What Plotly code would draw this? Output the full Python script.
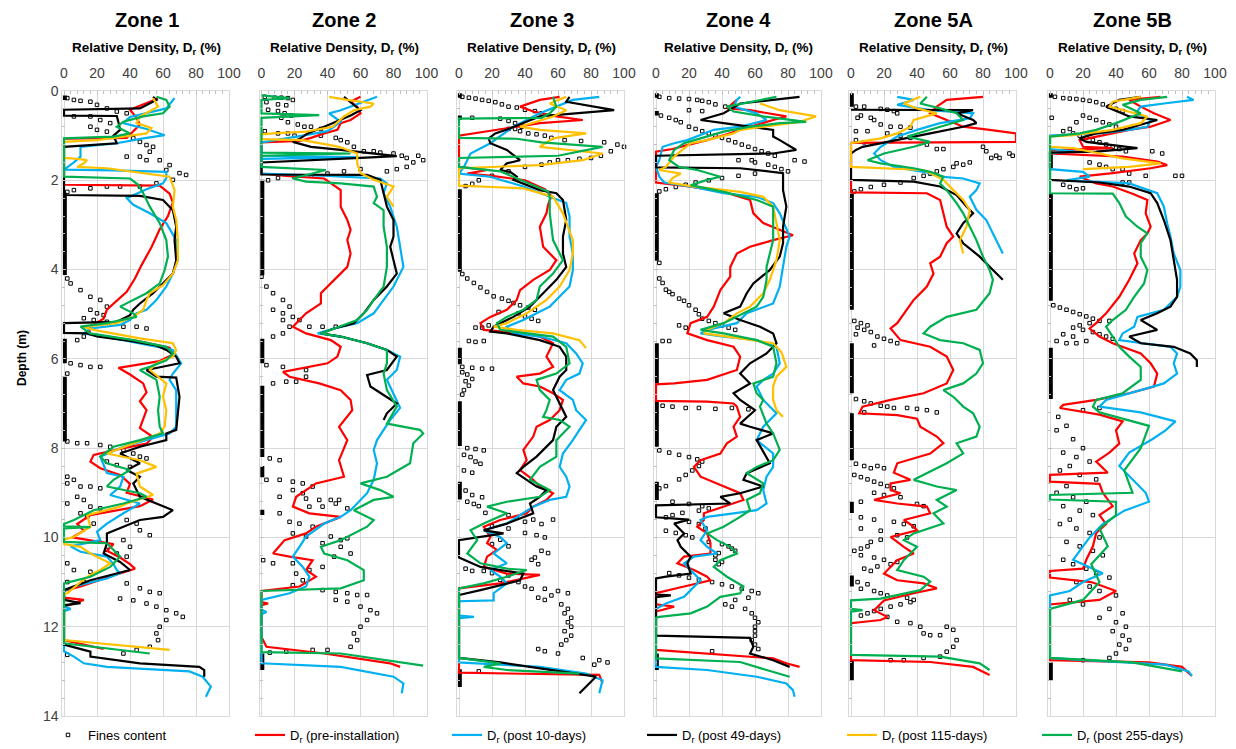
import plotly.graph_objects as go

ZONES = ["Zone 1", "Zone 2", "Zone 3", "Zone 4", "Zone 5A", "Zone 5B"]
SERIES = ["D<sub>r</sub> (pre-installation)", "D<sub>r</sub> (post 10-days)", "D<sub>r</sub> (post 49-days)",
          "D<sub>r</sub> (post 115-days)", "D<sub>r</sub> (post 255-days)"]
X_TICKS = [0, 20, 40, 60, 80, 100]
Y_TICKS = [0, 2, 4, 6, 8, 10, 12, 14]

# ---------------- Zone 1 (depth m, Dr %) ----------------
Z1_RED = [(0.17,57),(0.3,48),(0.42,40),(0.6,44),(0.75,46),(0.9,42),(1.05,38),(1.07,0),(2.1,0),(2.12,58),(2.3,64),(2.5,66),(2.8,63),(3.1,58),(3.5,53),(3.9,47),(4.2,43),(4.5,38),(4.7,32),(4.9,26),(5.1,24),(5.3,15),(5.45,16),(5.6,45),(5.75,64),(5.9,66),(6.05,58),(6.2,33),(6.35,40),(6.55,48),(6.75,50),(6.95,46),(7.15,50),(7.35,48),(7.55,46),(7.75,54),(7.9,50),(8.0,36),(8.15,18),(8.3,16),(8.45,22),(8.6,34),(8.8,40),(9.0,38),(9.15,54),(9.3,46),(9.5,16),(9.7,8),(9.85,12),(10.0,5),(10.15,30),(10.3,26),(10.45,34),(10.6,40),(10.7,43),(10.85,30),(11.1,10),(11.2,0),(11.35,0),(11.4,12),(11.5,3),(11.55,0),(12.3,0),(12.5,24)]
Z1_BLUE = [(0.16,67),(0.39,62),(0.58,40),(0.72,36),(0.85,50),(0.99,61),(1.06,48),(1.17,32),(1.25,10),(1.47,10),(1.6,6),(1.7,2),(1.76,0),(1.78,30),(1.81,62),(1.95,62),(2.07,60),(2.2,50),(2.4,38),(2.55,42),(2.74,52),(2.96,62),(3.34,68),(3.79,69),(4.09,66),(4.38,62),(4.68,56),(4.9,50),(4.98,44),(5.13,40),(5.24,34),(5.32,16),(5.43,12),(5.58,36),(5.8,66),(6.1,71),(6.33,66),(6.47,64),(6.7,68),(7.15,68),(7.52,68),(7.67,64),(7.82,50),(7.97,36),(8.19,22),(8.4,24),(8.56,26),(8.64,36),(8.86,34),(9.05,28),(9.16,38),(9.24,46),(9.46,36),(9.69,26),(9.87,20),(10.06,22),(10.2,4),(10.32,10),(10.43,26),(10.6,30),(10.73,32),(10.8,34),(10.92,26),(11.1,6),(11.2,0),(11.55,0),(11.6,4),(11.65,0),(12.55,0),(12.67,6),(12.82,12),(12.9,26),(13.0,76),(13.12,84),(13.34,89),(13.57,86)]
Z1_BLACK = [(0.13,54),(0.2,56),(0.39,46),(0.42,0),(0.55,0),(0.56,32),(0.7,33),(0.87,34),(1.0,30),(1.17,32),(1.25,0),(2.33,0),(2.35,46),(2.44,60),(2.67,66),(3.04,68),(3.34,67),(3.79,68),(4.09,66),(4.31,60),(4.53,54),(4.76,46),(4.9,42),(5.02,40),(5.17,32),(5.2,0),(5.42,0),(5.43,14),(5.5,20),(5.6,40),(5.7,56),(5.8,62),(5.95,68),(6.1,70),(6.25,50),(6.4,56),(6.42,68),(6.85,70),(7.22,69),(7.59,68),(7.67,62),(7.82,62),(7.97,46),(8.12,34),(8.19,38),(8.34,46),(8.49,38),(8.64,46),(8.79,42),(9.09,46),(9.39,66),(9.54,60),(9.61,46),(9.76,36),(9.91,26),(10.13,26),(10.36,24),(10.55,34),(10.73,40),(10.96,16),(11.18,0),(11.4,0),(11.47,10),(11.52,0),(12.4,0),(12.56,16),(12.67,16),(12.82,46),(12.9,82),(12.97,85),(13.12,85)]
Z1_ORANGE = [(0.16,54),(0.35,57),(0.57,46),(0.72,44),(0.83,53),(0.95,50),(1.02,36),(1.1,20),(1.14,0),(1.5,0),(1.52,8),(1.55,14),(1.62,12),(1.7,8),(1.73,26),(1.92,64),(2.22,67),(2.59,66),(2.89,68),(3.34,69),(3.79,69),(4.09,66),(4.35,60),(4.53,52),(4.68,50),(4.9,48),(5.06,42),(5.2,32),(5.28,12),(5.35,18),(5.54,46),(5.65,66),(5.8,68),(5.95,66),(6.1,56),(6.25,52),(6.55,62),(6.85,60),(7.15,62),(7.52,61),(7.67,58),(7.9,42),(8.12,26),(8.27,46),(8.42,56),(8.57,44),(8.86,46),(9.05,54),(9.24,38),(9.31,34),(9.5,14),(9.76,16),(9.99,6),(10.05,0),(10.15,0),(10.21,10),(10.36,16),(10.58,28),(10.73,22),(10.84,16),(11.0,10),(11.25,2),(11.28,0),(12.3,0),(12.52,64)]
Z1_GREEN = [(0.13,56),(0.2,62),(0.35,64),(0.5,60),(0.57,48),(0.69,36),(0.8,32),(0.95,40),(1.02,30),(1.06,0),(1.92,0),(1.96,40),(2.1,45),(2.29,48),(2.59,52),(2.96,58),(3.34,62),(3.71,63),(4.01,61),(4.31,58),(4.53,50),(4.68,42),(4.83,34),(4.98,42),(5.06,44),(5.2,26),(5.28,10),(5.43,16),(5.58,42),(5.73,62),(5.88,66),(6.03,62),(6.18,52),(6.25,46),(6.47,56),(6.85,58),(7.15,57),(7.52,58),(7.67,60),(7.82,46),(7.97,30),(8.19,22),(8.34,26),(8.49,40),(8.71,30),(8.86,26),(9.01,46),(9.09,50),(9.24,36),(9.39,18),(9.61,6),(9.7,0),(9.75,0),(9.77,16),(9.8,0),(10.1,0),(10.13,26),(10.43,34),(10.66,28),(10.88,16),(11.03,0),(12.37,0),(12.6,52)]
Z1_FINES = [(0.16,2),(0.2,6),(0.22,10),(0.24,16),(0.31,20),(0.39,26),(0.46,32),(0.5,38),(0.57,6),(0.57,16),(0.65,22),(0.72,28),(0.8,16),(0.87,20),(0.91,26),(1.02,36),(1.06,42),(1.14,46),(1.21,50),(1.25,54),(1.36,52),(1.47,46),(1.47,38),(1.55,50),(1.55,58),(1.66,64),(1.77,62),(1.84,70),(1.88,74),(1.99,66),(2.07,56),(2.14,46),(2.14,34),(2.14,26),(2.18,16),(2.22,6),(2.26,2),(4.2,2),(4.31,4),(4.46,10),(4.61,16),(4.68,22),(4.83,26),(4.9,16),(4.98,20),(5.02,24),(5.09,12),(5.13,18),(5.17,26),(5.28,36),(5.28,44),(5.32,50),(5.5,12),(5.58,8),(6.1,4),(6.14,10),(6.18,16),(6.18,22),(6.33,2),(7.85,2),(7.89,8),(7.89,14),(7.93,22),(7.97,28),(8.04,36),(8.12,42),(8.19,46),(8.23,50),(8.3,26),(8.38,32),(8.42,40),(8.64,2),(8.71,6),(8.79,2),(8.86,10),(8.86,16),(8.9,22),(9.09,8),(9.16,12),(9.24,2),(9.31,16),(9.35,22),(9.46,10),(9.54,14),(9.69,18),(9.61,38),(9.69,44),(9.84,46),(9.95,52),(10.06,36),(10.21,40),(10.28,26),(10.36,32),(10.43,38),(10.58,2),(10.73,6),(10.77,16),(11.0,2),(11.0,12),(11.03,38),(11.14,46),(11.22,52),(11.25,58),(11.37,34),(11.41,42),(11.48,50),(11.55,56),(11.63,62),(11.7,68),(11.78,72),(11.85,62),(12.0,58),(12.15,56),(12.3,57),(12.45,52),(12.52,44),(12.6,36),(12.63,2)]
Z1_FINES_ZERO = [(0.1,0.2),(2.28,4.12),(5.55,6.1),(6.4,7.85)]

# ---------------- Zone 2 ----------------
Z2_RED = [(0.13,60),(0.24,54),(0.35,58),(0.5,60),(0.65,54),(0.72,48),(0.87,46),(0.95,38),(1.05,30),(1.12,23),(1.15,0),(1.85,0),(1.9,15),(1.96,38),(2.22,48),(2.59,48),(2.89,52),(3.11,54),(3.34,52),(3.64,54),(3.94,52),(4.23,44),(4.53,36),(4.76,36),(4.98,27),(5.28,19),(5.43,27),(5.58,42),(5.73,48),(5.95,46),(6.1,40),(6.29,13),(6.4,17),(6.55,35),(6.7,48),(6.92,54),(7.15,55),(7.52,47),(7.82,52),(8.27,47),(8.64,50),(8.79,33),(9.09,21),(9.31,19),(9.46,29),(9.54,48),(9.76,33),(9.91,27),(10.06,14),(10.36,7),(10.43,17),(10.51,31),(10.73,27),(10.88,33),(11.1,23),(11.2,0),(11.45,0),(11.48,4),(11.52,0),(12.23,0),(12.45,3),(12.6,38),(12.82,78),(12.9,84)]
Z2_BLUE = [(0.13,70),(0.24,62),(0.43,48),(0.5,41),(0.69,48),(0.8,44),(0.9,40),(1.0,25),(1.1,10),(1.15,0),(1.45,0),(1.48,58),(1.52,0),(1.85,0),(1.9,40),(1.96,72),(2.07,76),(2.29,74),(2.59,78),(3.04,82),(3.49,84),(3.94,86),(4.38,80),(4.68,74),(4.98,68),(5.2,58),(5.32,44),(5.43,34),(5.5,48),(5.65,64),(5.8,76),(5.95,84),(6.25,82),(6.47,76),(6.77,80),(7.1,84),(7.37,78),(7.82,70),(8.04,68),(8.34,70),(8.71,68),(9.01,64),(9.39,54),(9.54,48),(9.69,38),(9.98,27),(10.21,23),(10.43,19),(10.66,25),(10.88,29),(11.1,27),(11.25,17),(11.4,0),(11.62,0),(11.67,3),(11.72,0),(12.82,0),(12.9,48),(13.12,80),(13.27,86),(13.49,85)]
Z2_BLACK = [(0.13,50),(0.3,56),(0.43,60),(0.55,54),(0.65,48),(0.8,38),(0.95,28),(1.05,24),(1.14,19),(1.25,30),(1.32,48),(1.4,68),(1.46,82),(1.5,60),(1.6,0),(1.87,0),(1.88,64),(1.99,72),(2.29,74),(2.59,76),(2.89,80),(3.26,80),(3.49,78),(3.79,80),(4.09,82),(4.38,76),(4.68,68),(4.98,62),(5.2,56),(5.32,44),(5.43,36),(5.5,48),(5.65,64),(5.8,76),(5.95,82),(6.25,76),(6.36,64),(6.62,66),(6.77,72),(7.0,82),(7.22,76),(7.37,74)]
Z2_ORANGE = [(0.13,41),(0.2,52),(0.28,68),(0.35,66),(0.43,56),(0.57,50),(0.8,43),(0.91,27),(0.95,7),(0.97,0),(1.08,0),(1.1,25),(1.2,40),(1.25,47),(1.4,58),(1.62,58),(1.84,60),(1.99,68),(2.14,80),(2.37,76),(2.59,80)]
Z2_GREEN = [(0.1,0),(0.16,17),(0.2,0),(0.5,0),(0.54,35),(0.6,0),(1.38,0),(1.4,54),(1.45,0),(1.7,0),(1.77,39),(1.85,30),(1.96,19),(2.03,27),(2.07,48),(2.14,68),(2.37,70),(2.51,68),(2.67,74),(3.04,74),(3.49,76),(3.94,76),(4.38,74),(4.68,68),(4.9,64),(5.13,58),(5.32,44),(5.43,36),(5.5,48),(5.65,64),(5.8,76),(6.1,76),(6.33,74),(6.7,76),(7.07,82),(7.45,76),(7.59,96),(7.67,98),(7.89,92),(8.34,90),(8.64,76),(8.79,60),(8.94,72),(9.09,80),(9.16,68),(9.39,56),(9.61,68),(9.76,64),(10.06,48),(10.21,36),(10.36,38),(10.51,52),(10.73,62),(10.96,62),(11.14,48),(11.2,0),(12.57,0),(12.6,48),(12.87,98)]
Z2_FINES = [(0.13,2),(0.15,8),(0.15,12),(0.16,16),(0.2,19),(0.25,3),(0.3,10),(0.32,15),(0.42,4),(0.45,10),(0.5,14),(0.55,18),(0.6,12),(0.7,16),(0.75,22),(0.8,26),(0.8,30),(0.85,36),(0.9,2),(0.95,10),(0.95,16),(1.0,20),(1.0,36),(1.05,45),(1.1,48),(1.15,52),(1.25,56),(1.35,62),(1.35,68),(1.38,72),(1.4,80),(1.45,85),(1.5,88),(1.45,95),(1.55,98),(1.6,92),(1.7,88),(1.75,82),(1.8,76),(1.75,60),(1.8,50),(1.85,40),(1.9,30),(1.92,20),(1.95,10),(2.0,4),(4.16,0),(4.38,3),(4.53,7),(4.68,13),(4.83,17),(4.9,7),(4.98,13),(5.06,19),(5.13,13),(5.13,23),(5.28,17),(5.28,29),(5.28,37),(5.28,45),(5.5,7),(5.43,13),(6.14,3),(6.18,13),(6.25,27),(6.4,27),(6.55,7),(6.51,15),(6.51,21),(8.23,5),(8.27,11),(8.71,3),(8.71,11),(8.75,19),(8.79,25),(8.86,31),(8.94,19),(9.01,25),(9.09,11),(9.13,27),(9.16,35),(9.16,42),(9.16,47),(9.31,29),(9.31,37),(9.24,45),(9.35,52),(9.46,11),(9.65,17),(9.69,23),(9.76,31),(9.91,19),(9.98,27),(9.98,42),(10.06,48),(10.13,37),(10.21,48),(10.02,52),(10.36,54),(10.43,44),(10.51,1),(10.58,7),(10.58,19),(10.66,37),(10.73,29),(10.81,21),(10.96,25),(11.07,19),(11.18,37),(11.22,45),(11.25,52),(11.29,58),(11.29,64),(11.4,45),(11.44,52),(11.55,60),(11.63,66),(11.7,70),(11.85,64),(12.0,60),(12.15,56),(12.3,58),(12.45,54),(12.52,40),(12.52,31),(12.56,15),(12.58,5)]
Z2_FINES_ZERO = [(1.99,4.12),(5.55,6.1),(6.6,8.2),(8.4,8.65),(9.38,9.5),(12.6,12.97)]

# ---------------- Zone 3 ----------------
Z3_RED = [(0.13,61),(0.2,49),(0.35,37),(0.46,45),(0.57,59),(0.65,75),(0.72,49),(0.8,35),(0.9,15),(1.0,0),(1.7,0),(1.77,17),(1.85,5),(1.9,20),(2.0,40),(2.2,52),(2.35,56),(2.55,54),(2.74,53),(3.04,49),(3.49,51),(3.79,59),(4.01,55),(4.23,45),(4.46,37),(4.68,35),(4.9,29),(5.06,19),(5.2,13),(5.35,15),(5.43,39),(5.5,49),(5.65,57),(5.95,53),(6.18,57),(6.33,49),(6.4,35),(6.55,39),(6.62,49),(6.77,57),(6.92,63),(7.15,61),(7.37,55),(7.52,47),(7.74,45),(8.04,39),(8.27,41),(8.49,37),(8.71,45),(8.86,49),(9.01,57),(9.16,53),(9.31,45),(9.46,41),(9.61,25),(9.76,15),(9.99,19),(10.13,17),(10.28,23),(10.43,17),(10.66,15),(10.81,29),(10.84,49),(10.92,39),(11.03,25),(11.14,0),(13.03,0),(13.08,85),(13.27,87)]
Z3_BLUE = [(0.13,85),(0.2,69),(0.35,59),(0.5,49),(0.8,33),(1.02,25),(1.17,19),(1.4,7),(1.55,5),(1.7,3),(1.85,0),(1.92,19),(2.14,39),(2.37,55),(2.51,65),(2.81,67),(3.26,67),(3.64,69),(4.01,69),(4.38,67),(4.61,61),(4.83,55),(4.98,47),(5.13,39),(5.28,29),(5.43,33),(5.5,49),(5.65,65),(5.88,71),(6.1,75),(6.33,73),(6.47,65),(6.7,61),(6.92,69),(7.15,71),(7.37,77),(7.59,73),(7.82,69),(8.12,63),(8.42,61),(8.64,65),(8.86,67),(9.09,65),(9.16,55),(9.31,45),(9.54,35),(9.69,29),(9.84,15),(9.99,25),(10.13,29),(10.36,21),(10.58,29),(10.73,19),(10.88,25),(11.03,29),(11.25,21),(11.41,21),(11.43,0),(11.75,0),(11.78,9),(11.81,0),(12.8,0),(12.9,49),(13.05,77),(13.2,87),(13.49,85)]
Z3_BLACK = [(0.13,67),(0.24,65),(0.43,94),(0.5,69),(0.57,49),(0.7,40),(0.85,30),(0.95,22),(1.06,18),(1.17,19),(1.32,29),(1.55,37),(1.62,29),(1.77,25),(1.81,31),(1.92,35),(1.99,33),(2.22,49),(2.29,59),(2.44,63),(2.89,65),(3.26,63),(3.64,63),(3.94,65),(4.23,59),(4.53,51),(4.83,43),(5.06,33),(5.28,21),(5.39,19),(5.43,29),(5.58,49),(5.73,61),(5.95,65),(6.25,65),(6.4,61),(6.7,57),(7.0,61),(7.3,65),(7.52,59),(7.82,57),(8.19,47),(8.42,39),(8.56,35),(8.71,41),(8.86,47),(8.94,53),(9.09,49),(9.24,43),(9.46,45),(9.69,29),(9.84,15),(9.91,27),(10.0,10),(10.06,0),(10.45,0),(10.58,8),(10.66,13),(10.81,39),(10.96,37),(11.18,13),(11.29,0),(12.7,0),(12.8,25),(13.12,83),(13.49,73)]
Z3_ORANGE = [(0.13,65),(0.28,55),(0.43,65),(0.57,57),(0.8,37),(0.87,49),(0.95,77),(1.06,57),(1.25,49),(1.32,65),(1.4,87),(1.55,75),(1.66,49),(1.73,0),(2.12,0),(2.18,39),(2.37,57),(2.74,63),(3.34,69),(3.64,69),(4.01,67),(4.38,61),(4.68,53),(4.98,41),(5.2,29),(5.28,21),(5.35,35),(5.43,57),(5.58,73),(5.76,77)]
Z3_GREEN = [(0.13,57),(0.35,59),(0.5,55),(0.6,50),(0.62,0),(1.05,0),(1.07,35),(1.15,50),(1.25,87),(1.45,60),(1.5,0),(1.7,0),(1.8,25),(1.95,35),(2.1,45),(2.25,54),(2.37,55),(2.74,55),(3.34,57),(3.79,63),(4.09,57),(4.38,49),(4.68,47),(4.9,39),(5.06,29),(5.2,23),(5.35,25),(5.43,41),(5.5,57),(5.73,65),(6.1,67),(6.33,59),(6.47,47),(6.7,49),(6.92,55),(7.15,53),(7.3,51),(7.37,61),(7.52,67),(7.82,59),(8.19,59),(8.42,49),(8.71,43),(8.94,55),(9.09,49),(9.2,29),(9.31,17),(9.46,29),(9.69,15),(9.84,7),(10.06,11),(10.36,5),(10.58,13),(10.7,29),(10.73,41),(10.88,29),(11.03,15),(11.14,0),(12.7,0),(12.82,25),(12.9,15),(12.97,29),(13.05,73)]
Z3_FINES = [(0.13,2),(0.15,6),(0.17,10),(0.2,14),(0.22,18),(0.25,22),(0.3,26),(0.35,30),(0.37,35),(0.42,40),(0.45,46),(0.5,50),(0.6,8),(0.62,25),(0.67,30),(0.72,34),(0.8,38),(0.85,30),(0.85,34),(0.9,37),(0.95,42),(0.97,47),(1.0,52),(1.05,56),(1.1,64),(1.12,74),(1.15,88),(1.2,96),(1.25,100),(1.35,92),(1.45,86),(1.5,80),(1.52,73),(1.55,66),(1.55,60),(1.6,55),(1.65,50),(1.7,40),(1.8,30),(1.9,20),(2.0,12),(2.08,8),(2.13,4),(4.1,2),(4.2,5),(4.3,9),(4.4,13),(4.5,17),(4.6,21),(4.65,26),(4.7,30),(4.75,33),(4.8,37),(4.85,42),(4.9,46),(4.95,24),(4.98,36),(5.05,40),(5.1,44),(5.15,48),(5.3,10),(5.3,14),(5.25,18),(5.6,6),(5.62,10),(5.6,15),(6.18,2),(6.2,8),(6.22,14),(6.22,20),(6.3,2),(6.35,5),(6.45,8),(6.5,4),(6.6,6),(6.7,3),(6.8,2),(8.0,5),(8.02,10),(8.05,15),(8.15,3),(8.2,7),(8.3,10),(8.35,13),(8.5,3),(8.55,8),(8.95,4),(9.05,8),(9.1,14),(9.2,5),(9.25,9),(9.3,12),(9.45,16),(9.5,30),(9.55,35),(9.6,45),(9.6,57),(9.65,40),(9.7,50),(9.75,20),(9.8,30),(9.9,40),(9.95,47),(10.0,52),(10.05,25),(10.15,20),(10.2,30),(10.3,50),(10.35,54),(10.45,46),(10.5,44),(10.6,48),(10.7,4),(10.75,8),(10.75,15),(10.8,20),(10.85,30),(10.95,25),(11.0,36),(11.1,40),(11.15,44),(11.15,52),(11.2,60),(11.25,66),(11.3,56),(11.35,48),(11.4,52),(11.5,62),(11.6,66),(11.7,64),(11.8,68),(11.9,66),(12.0,68),(12.1,64),(12.2,68),(12.3,65),(12.4,62),(12.5,48),(12.55,52),(12.6,60),(12.7,75),(12.75,85),(12.8,90),(12.85,82),(13.0,12)]
Z3_FINES_ZERO = [(0.05,0.15),(0.55,0.65),(2.2,4.05),(5.75,6.12),(6.95,7.95),(8.75,9.15),(12.95,13.35)]

# ---------------- Zone 4 ----------------
Z4_RED = [(0.2,49),(0.39,43),(0.43,57),(0.57,79),(0.65,71),(0.8,57),(0.99,41),(1.1,31),(1.2,20),(1.3,10),(1.36,0),(2.05,0),(2.14,21),(2.26,41),(2.44,57),(2.74,59),(2.96,65),(3.11,75),(3.23,83),(3.34,71),(3.49,57),(3.64,49),(3.94,45),(4.16,45),(4.46,39),(4.83,35),(5.06,31),(5.2,21),(5.43,19),(5.58,31),(5.73,47),(5.95,51),(6.25,49),(6.47,31),(6.55,11),(6.57,0),(6.94,0),(6.96,31),(7.0,47),(7.07,49),(7.3,51),(7.52,47),(7.74,49),(7.89,43),(8.12,39),(8.27,27),(8.42,23),(8.64,27),(8.86,41),(9.01,51),(9.16,53),(9.31,41),(9.46,29),(9.61,29),(9.76,25),(9.91,31),(10.13,33),(10.36,33),(10.43,17),(10.58,13),(10.73,23),(10.88,31),(10.96,33),(11.1,17),(11.25,0),(11.5,0),(11.55,11),(11.63,3),(11.66,0),(12.52,0),(12.6,31),(12.71,71),(12.82,79),(12.9,87)]
Z4_BLUE = [(0.13,51),(0.2,49),(0.35,47),(0.5,61),(0.65,67),(0.8,51),(0.87,35),(1.02,25),(1.1,19),(1.17,11),(1.25,4),(1.55,2),(1.7,0),(1.92,2),(2.05,5),(2.14,21),(2.29,41),(2.37,61),(2.51,71),(2.74,75),(3.11,79),(3.26,81),(3.49,79),(3.94,77),(4.38,75),(4.76,71),(4.98,55),(5.2,49),(5.35,31),(5.43,27),(5.5,41),(5.58,61),(5.73,73),(6.1,75),(6.33,71),(6.47,65),(6.62,61),(6.92,65),(7.15,71),(7.22,73),(7.52,65),(7.82,61),(8.12,71),(8.42,71),(8.64,67),(8.94,65),(9.24,67),(9.39,61),(9.46,47),(9.54,31),(9.61,27),(9.84,31),(10.06,27),(10.21,31),(10.36,37),(10.43,23),(10.58,17),(10.73,21),(10.96,27),(11.18,21),(11.33,17),(11.48,6),(11.55,2),(11.6,0),(12.9,0),(12.97,31),(13.12,61),(13.27,79),(13.42,83),(13.57,84)]
Z4_BLACK = [(0.13,87),(0.2,71),(0.28,51),(0.5,41),(0.65,27),(0.72,41),(0.87,71),(1.02,71),(1.1,75),(1.32,85),(1.4,71),(1.45,0),(1.71,0),(1.73,51),(1.84,77),(2.22,77),(2.59,79),(3.04,77),(3.41,77),(3.71,75),(4.01,69),(4.31,59),(4.53,55),(4.83,51),(4.98,41),(5.13,51),(5.28,63),(5.43,71),(5.65,73),(5.88,67),(6.1,57),(6.33,51),(6.55,57),(6.77,47),(6.92,51),(7.15,60),(7.45,51),(7.52,57),(7.67,71),(7.82,61),(8.19,67),(8.34,69),(8.56,55),(8.71,53),(8.86,65),(9.01,51),(9.09,39),(9.24,45),(9.28,0),(9.55,0),(9.6,20),(9.69,11),(9.91,17),(10.06,13),(10.21,15),(10.43,21),(10.58,19),(10.81,21),(10.88,6),(10.92,0),(11.28,0),(11.3,9),(11.34,0),(12.2,0),(12.25,57),(12.45,59),(12.6,57),(12.75,71),(12.9,81)]
Z4_ORANGE = [(0.28,63),(0.43,75),(0.57,97),(0.69,87),(0.87,51),(0.95,47),(1.1,31),(1.17,21),(1.47,11),(1.7,6),(1.77,2),(1.85,15),(1.95,10),(2.05,8),(2.13,21),(2.26,51),(2.37,65),(2.59,71),(2.96,73),(3.34,75),(3.79,73),(4.23,69),(4.53,65),(4.83,57),(4.98,49),(5.2,41),(5.35,31),(5.43,29),(5.54,51),(5.65,71),(5.85,76),(6.18,79),(6.4,73),(6.62,71),(6.92,71),(7.15,73),(7.3,77)]
Z4_GREEN = [(0.13,73),(0.24,57),(0.35,43),(0.46,47),(0.57,65),(0.69,91),(0.72,75),(0.8,57),(0.91,41),(1.06,27),(1.17,17),(1.32,11),(1.55,8),(1.7,14),(1.77,25),(1.92,39),(1.99,31),(2.11,21),(2.26,41),(2.44,61),(2.59,71),(2.96,71),(3.34,71),(3.64,69),(3.94,67),(4.23,67),(4.61,65),(4.83,61),(5.06,49),(5.2,41),(5.35,27),(5.43,41),(5.58,61),(5.73,71),(6.1,73),(6.4,71),(6.55,59),(6.77,61),(6.92,65),(7.07,63),(7.45,67),(7.67,71),(8.04,75),(8.27,71),(8.42,61),(8.56,55),(8.79,65),(9.01,63),(9.16,55),(9.39,57),(9.54,51),(9.76,41),(9.91,31),(10.06,37),(10.21,45),(10.36,49),(10.51,39),(10.66,35),(10.88,43),(11.1,53),(11.25,51),(11.33,39),(11.55,31),(11.7,21),(11.78,2),(11.8,0),(12.71,0),(12.79,51),(12.97,67),(13.12,81)]
Z4_FINES = [(0.13,2),(0.16,8),(0.17,14),(0.18,20),(0.2,25),(0.22,28),(0.25,32),(0.3,36),(0.35,42),(0.43,20),(0.45,28),(0.55,3),(0.6,8),(0.65,12),(0.7,15),(0.8,20),(0.85,24),(0.9,28),(0.95,32),(1.0,36),(1.05,40),(1.1,44),(1.15,48),(1.2,52),(1.25,56),(1.3,60),(1.35,64),(1.4,68),(1.45,72),(1.55,50),(1.55,58),(1.6,60),(1.65,68),(1.7,72),(1.75,76),(1.8,80),(1.55,84),(1.58,90),(1.85,60),(1.9,50),(1.95,40),(2.0,32),(2.05,24),(2.1,18),(2.15,12),(2.2,6),(2.25,2),(3.85,2),(4.2,2),(4.3,4),(4.45,6),(4.5,8),(4.55,10),(4.65,14),(4.7,17),(4.8,20),(4.9,24),(5.0,26),(5.1,28),(5.15,32),(5.2,36),(5.25,40),(5.3,44),(5.35,48),(5.25,14),(5.3,18),(5.6,4),(5.6,8),(7.05,4),(7.07,10),(7.1,18),(7.1,26),(7.12,36),(7.1,46),(7.13,56),(8.05,2),(8.1,8),(8.15,14),(8.2,20),(8.25,25),(8.3,28),(8.4,26),(8.5,22),(8.6,18),(8.7,14),(8.85,6),(8.9,2),(9.2,10),(9.25,20),(9.3,28),(9.35,32),(9.4,26),(9.45,16),(9.5,10),(9.55,6),(9.65,20),(9.7,26),(9.8,30),(9.85,6),(9.9,12),(9.95,18),(10.0,22),(10.1,32),(10.15,40),(10.2,44),(10.25,46),(10.3,48),(10.35,38),(10.4,36),(10.5,36),(10.55,40),(10.6,38),(10.8,8),(10.85,14),(10.9,20),(10.95,26),(11.0,34),(11.05,40),(11.1,46),(11.15,52),(11.2,58),(11.25,62),(11.35,56),(11.4,48),(11.5,42),(11.55,46),(11.6,54),(11.7,58),(11.8,60),(11.9,62),(12.0,60),(12.1,60),(12.2,60),(12.3,58),(12.4,60),(12.5,62),(12.55,34)]
Z4_FINES_ZERO = [(0.05,0.15),(0.45,0.55),(2.29,3.8),(5.65,6.55),(6.92,7.97),(8.75,9.16),(12.6,12.97)]

# ---------------- Zone 5A ----------------
Z5A_RED = [(0.13,80),(0.2,58),(0.35,52),(0.5,48),(0.65,58),(0.8,68),(0.87,84),(0.95,100),(1.14,100),(1.16,0),(2.27,0),(2.29,46),(2.44,54),(2.74,56),(3.04,58),(3.26,62),(3.41,58),(3.71,54),(3.86,48),(4.09,50),(4.38,46),(4.68,38),(4.98,32),(5.2,28),(5.32,24),(5.58,30),(5.73,48),(5.95,58),(6.25,62),(6.55,58),(6.77,44),(6.92,24),(7.07,7),(7.22,5),(7.26,28),(7.34,40),(7.52,42),(7.74,52),(7.89,56),(8.12,48),(8.34,28),(8.55,26),(8.71,36),(8.79,24),(8.94,24),(9.01,30),(9.16,14),(9.24,28),(9.31,46),(9.46,48),(9.61,32),(9.76,38),(9.84,40),(9.99,24),(10.21,32),(10.36,38),(10.51,28),(10.66,24),(10.81,20),(10.96,28),(11.03,44),(11.14,52),(11.25,38),(11.41,20),(11.63,14),(11.78,22),(11.85,18),(11.92,0),(12.75,0),(12.79,48),(12.9,74),(13.08,84)]
Z5A_BLUE = [(0.13,28),(0.2,38),(0.31,28),(0.43,48),(0.5,74),(0.61,72),(0.72,54),(0.87,40),(1.02,28),(1.25,18),(1.4,14),(1.55,18),(1.7,26),(1.81,44),(1.92,54),(1.96,68),(2.07,78),(2.22,76),(2.37,72),(2.66,76),(2.89,82),(3.19,86),(3.49,90),(3.64,92)]
Z5A_BLACK = [(0.42,0),(0.43,74),(0.5,64),(0.65,74),(0.72,76),(0.8,68),(0.95,48),(1.02,38),(1.1,28),(1.17,16),(1.25,7),(1.32,3),(1.4,0),(1.99,0),(2.03,38),(2.14,54),(2.33,64),(2.59,70),(2.74,74),(2.96,68),(3.19,64),(3.41,68),(3.71,78),(4.01,86),(4.23,92)]
Z5A_ORANGE = [(0.13,42),(0.28,32),(0.39,40),(0.5,52),(0.65,38),(0.8,36),(0.95,28),(1.06,18),(1.14,5),(1.17,0),(1.7,0),(1.77,44),(1.84,48),(1.99,56),(2.22,62),(2.44,68),(2.67,72),(3.04,70),(3.34,66),(3.64,68)]
Z5A_GREEN = [(0.13,46),(0.28,42),(0.39,54),(0.5,64),(0.65,68),(0.87,48),(1.02,34),(1.14,48),(1.25,38),(1.4,20),(1.55,10),(1.62,18),(1.73,38),(1.81,48),(1.92,56),(2.07,54),(2.22,58),(2.51,64),(2.74,68),(3.04,72),(3.34,76),(3.71,80),(4.01,84),(4.23,86),(4.53,84),(4.9,76),(5.06,58),(5.28,48),(5.43,44),(5.58,54),(5.65,68),(5.8,78),(6.1,80),(6.33,76),(6.55,68),(6.7,56),(6.85,62),(7.07,68),(7.22,74),(7.52,78),(7.74,76),(7.89,64),(8.12,68),(8.34,58),(8.71,38),(8.86,52),(8.94,64),(9.16,52),(9.31,58),(9.46,50),(9.69,56),(9.91,38),(10.06,32),(10.21,40),(10.36,36),(10.51,32),(10.73,28),(10.88,44),(10.99,48),(11.18,42),(11.37,18),(11.41,0),(11.6,0),(11.63,7),(11.66,0),(12.63,0),(12.67,54),(12.82,78),(12.97,84)]
Z5A_FINES = [(0.35,3),(0.35,8),(0.4,18),(0.42,22),(0.45,26),(0.5,28),(0.55,6),(0.6,12),(0.6,4),(0.65,14),(0.75,18),(0.8,24),(0.8,30),(0.82,36),(0.9,3),(0.9,10),(0.95,22),(1.0,30),(1.05,36),(1.1,3),(1.15,8),(1.2,46),(1.3,52),(1.3,56),(1.25,80),(1.35,82),(1.4,96),(1.45,98),(1.45,88),(1.5,85),(1.5,90),(1.6,72),(1.62,64),(1.65,68),(1.7,62),(1.75,56),(1.8,52),(1.85,48),(1.9,44),(1.95,38),(2.05,30),(2.1,20),(2.15,12),(2.2,6),(2.25,2),(5.15,2),(5.2,6),(5.25,10),(5.3,4),(5.35,8),(5.4,12),(5.45,3),(5.5,16),(5.55,20),(5.6,24),(5.65,28),(5.7,14),(6.9,3),(6.95,8),(7.0,12),(7.05,18),(7.07,22),(7.1,26),(7.1,34),(7.12,40),(7.15,46),(7.2,52),(7.2,8),(8.35,3),(8.4,8),(8.45,12),(8.4,16),(8.45,20),(8.6,2),(8.65,6),(8.7,10),(8.75,14),(8.8,18),(8.85,22),(8.9,26),(9.0,14),(9.05,20),(9.1,30),(9.2,6),(9.25,40),(9.3,44),(9.55,6),(9.6,14),(9.65,26),(9.7,32),(9.75,38),(9.8,6),(9.85,18),(9.95,28),(10.0,34),(10.05,18),(10.1,12),(10.2,10),(10.25,6),(10.3,2),(10.4,6),(10.45,14),(10.5,20),(10.55,28),(10.6,24),(10.65,16),(10.7,8),(10.75,12),(11.0,4),(11.05,10),(11.15,6),(11.2,14),(11.25,18),(11.3,22),(11.35,34),(11.4,38),(11.45,36),(11.5,30),(11.55,24),(11.6,18),(11.65,14),(11.7,10),(11.75,6),(11.78,22),(11.89,28),(11.92,36),(12.0,42),(12.15,44),(12.19,48),(12.19,54),(12.0,58),(12.07,62),(12.3,64),(12.45,62),(12.56,58),(12.67,54),(12.7,44),(12.75,32),(12.75,24)]
Z5A_FINES_ZERO = [(0.05,0.35),(2.3,4.9),(5.65,6.77),(7.22,8.27),(9.2,9.45),(10.85,11.1),(12.75,13.2)]

# ---------------- Zone 5B ----------------
Z5B_RED = [(0.13,67),(0.2,48),(0.35,55),(0.5,63),(0.65,73),(0.8,61),(0.87,48),(1.0,30),(1.1,18),(1.25,20),(1.28,38),(1.33,0),(1.4,0),(1.47,44),(1.58,65),(1.66,71),(1.73,61),(1.84,38),(1.92,18),(2.07,28),(2.14,38),(2.3,50),(2.44,59),(2.74,58),(3.04,61),(3.19,59),(3.34,55),(3.64,51),(3.86,53),(4.23,48),(4.61,42),(4.98,34),(5.2,28),(5.32,24),(5.5,30),(5.65,38),(5.88,55),(6.1,61),(6.33,65),(6.62,63),(6.77,48),(6.92,28),(7.03,8),(7.1,6),(7.25,30),(7.4,44),(7.6,40),(7.9,42),(8.1,36),(8.3,28),(8.55,35),(8.6,0),(8.75,0),(8.8,30),(9.0,32),(9.3,38),(9.5,30),(9.7,34),(9.9,28),(10.2,26),(10.5,22),(10.7,20),(10.75,0),(10.9,0),(11.0,25),(11.2,40),(11.4,30),(11.5,0),(12.75,0),(12.8,60),(12.9,80),(13.1,86)]
Z5B_BLUE = [(0.13,83),(0.2,87),(0.28,69),(0.35,55),(0.5,52),(0.65,61),(0.8,59),(0.87,48),(0.95,30),(1.0,0),(1.3,0),(1.35,15),(1.4,0),(1.75,0),(1.81,20),(1.92,24),(2.0,10),(2.03,30),(2.07,48),(2.29,65),(2.59,69),(2.96,71),(3.26,73),(3.64,75),(4.01,79),(4.38,79),(4.61,77),(4.9,69),(5.06,53),(5.28,51),(5.43,44),(5.58,42),(5.65,55),(5.73,73),(5.88,77),(6.1,75),(6.33,77),(6.55,69),(6.7,55),(6.92,34),(7.07,30),(7.2,55),(7.4,76),(7.6,70),(7.8,62),(8.1,48),(8.4,42),(8.7,50),(9.0,58),(9.2,60),(9.4,45),(9.7,32),(10.0,24),(10.3,18),(10.5,14),(10.8,32),(11.0,20),(11.2,12),(11.3,0),(12.7,0),(12.75,20),(12.85,70),(13.0,84),(13.1,86)]
Z5B_BLACK = [(0.13,55),(0.2,42),(0.35,34),(0.57,48),(0.65,65),(0.87,44),(0.95,28),(1.06,18),(1.14,22),(1.28,53),(1.36,28),(1.38,0),(1.99,0),(2.05,30),(2.14,48),(2.29,61),(2.51,65),(2.89,69),(3.34,73),(3.79,75),(4.23,77),(4.61,77),(4.83,73),(4.98,65),(5.13,55),(5.35,65),(5.5,48),(5.65,55),(5.73,75),(5.88,85),(6.03,89),(6.18,89)]
Z5B_ORANGE = [(0.13,55),(0.24,38),(0.35,36),(0.57,59),(0.72,55),(0.87,38),(0.99,14),(1.02,0),(1.25,0),(1.28,14),(1.4,30),(1.51,44),(1.62,67),(1.7,48),(1.75,20)]
Z5B_GREEN = [(0.13,71),(0.2,55),(0.31,44),(0.5,55),(0.72,40),(0.87,28),(0.95,18),(1.02,0),(2.29,0),(2.3,38),(2.51,42),(2.81,46),(3.04,53),(3.19,59),(3.41,55),(3.71,55),(4.01,59),(4.31,57),(4.61,51),(4.9,46),(5.13,38),(5.28,34),(5.5,38),(5.73,42),(5.95,48),(6.18,55),(6.47,55),(6.77,44),(6.92,28),(7.07,26),(7.2,30),(7.5,60),(8.0,55),(8.5,45),(9.0,50),(9.05,0),(9.15,0),(9.2,40),(9.5,40),(9.8,30),(10.2,35),(10.6,25),(11.0,30),(11.4,20),(11.6,0),(12.7,0),(12.8,50),(13.0,80)]
Z5B_FINES = [(0.13,3),(0.16,8),(0.17,12),(0.18,16),(0.2,20),(0.22,24),(0.25,28),(0.3,32),(0.35,36),(0.4,40),(0.45,44),(0.6,1),(0.55,20),(0.6,24),(0.65,28),(0.7,32),(0.75,36),(0.8,40),(0.7,16),(0.85,12),(0.9,8),(0.95,14),(1.0,18),(1.05,22),(1.1,26),(1.15,30),(1.2,34),(1.25,38),(1.3,42),(1.35,46),(1.35,62),(1.4,68),(1.6,24),(1.65,30),(1.7,34),(1.75,38),(1.75,44),(1.85,48),(1.9,58),(1.9,76),(1.9,80),(2.05,44),(2.05,48),(2.1,8),(2.15,12),(2.2,16),(2.18,20),(4.8,2),(4.85,6),(4.9,10),(4.95,14),(5.0,18),(5.05,22),(5.1,26),(5.15,30),(5.15,36),(5.2,24),(5.25,18),(5.3,14),(5.35,20),(5.4,26),(5.45,30),(5.5,34),(5.55,38),(5.45,8),(5.5,14),(5.6,4),(5.65,10),(5.65,16),(5.6,22),(7.1,30),(7.15,20),(7.3,5),(7.5,10),(7.6,4),(7.8,14),(8.0,20),(8.1,8),(8.2,16),(8.3,24),(8.4,12),(8.5,6),(8.6,18),(8.7,28),(8.85,10),(9.0,4),(9.1,14),(9.2,22),(9.3,8),(9.4,18),(9.5,26),(9.6,12),(9.7,6),(9.8,16),(9.9,24),(10.0,30),(10.1,10),(10.2,18),(10.3,26),(10.4,32),(10.5,8),(10.6,14),(10.7,22),(10.8,28),(10.9,36),(11.0,16),(11.1,24),(11.2,30),(11.3,40),(11.4,12),(11.5,20),(11.6,36),(11.7,44),(11.8,30),(11.9,40),(12.0,46),(12.1,38),(12.2,44),(12.3,48),(12.4,42),(12.5,46),(12.6,40),(12.7,36),(12.75,20)]
Z5B_FINES_ZERO = [(0.05,0.15),(1.36,1.73),(2.3,4.7),(5.75,6.9),(12.8,13.2)]

ZONE_DATA = [
    (Z1_FINES, Z1_FINES_ZERO, [Z1_RED, Z1_BLUE, Z1_BLACK, Z1_ORANGE, Z1_GREEN]),
    (Z2_FINES, Z2_FINES_ZERO, [Z2_RED, Z2_BLUE, Z2_BLACK, Z2_ORANGE, Z2_GREEN]),
    (Z3_FINES, Z3_FINES_ZERO, [Z3_RED, Z3_BLUE, Z3_BLACK, Z3_ORANGE, Z3_GREEN]),
    (Z4_FINES, Z4_FINES_ZERO, [Z4_RED, Z4_BLUE, Z4_BLACK, Z4_ORANGE, Z4_GREEN]),
    (Z5A_FINES, Z5A_FINES_ZERO, [Z5A_RED, Z5A_BLUE, Z5A_BLACK, Z5A_ORANGE, Z5A_GREEN]),
    (Z5B_FINES, Z5B_FINES_ZERO, [Z5B_RED, Z5B_BLUE, Z5B_BLACK, Z5B_ORANGE, Z5B_GREEN]),
]

# ---------------- styling / layout ----------------
COLORS = ["#ff0000", "#00b0f0", "#000000", "#ffc000", "#00b050"]
FONT = "Liberation Sans, Arial, sans-serif"
W, H = 1236, 749
ML, MR, MT, MB = 62, 21, 91, 33
PW = W - ML - MR
PH = H - MT - MB
ZONE_LEFT_PX = [64, 261.5, 459, 656, 851, 1050]
ZONE_W_PX = 165
LEGEND_TEXT_PX = [88, 290, 487, 682, 882, 1077]   # where each legend label starts
LEGEND_NAMES = ["legend", "legend2", "legend3", "legend4", "legend5", "legend6"]
GRID = "#d9d9d9"

fig = go.Figure()

for i, (fines, fzero, curves) in enumerate(ZONE_DATA):
    xa, ya = f"x{i+1}", f"y{i+1}"
    first = (i == 0)
    # fines content: scattered points
    fig.add_trace(go.Scatter(
        x=[v for d, v in fines], y=[d for d, v in fines], xaxis=xa, yaxis=ya,
        mode="markers", name="Fines content", legendgroup="fines", showlegend=first,
        legend=LEGEND_NAMES[0],
        marker=dict(symbol="square-open", size=3.5, color="#000000", line=dict(width=1, color="#000000")),
        cliponaxis=False))
    # fines content = 0 runs (dense points drawn as a thick line)
    zx, zy = [], []
    for top, bot in fzero:
        zx += [0.5, 0.5, None]
        zy += [top, bot, None]
    fig.add_trace(go.Scatter(x=zx, y=zy, xaxis=xa, yaxis=ya, mode="lines",
                             line=dict(color="#000000", width=4), showlegend=False,
                             legendgroup="fines", hoverinfo="skip"))
    for k, curve in enumerate(curves):
        fig.add_trace(go.Scatter(
            x=[v for d, v in curve], y=[d for d, v in curve], xaxis=xa, yaxis=ya,
            mode="lines", name=SERIES[k], legendgroup=f"s{k}", showlegend=first,
            legend=LEGEND_NAMES[k + 1],
            line=dict(color=COLORS[k], width=2.2)))

layout = dict(
    width=W, height=H, paper_bgcolor="white", plot_bgcolor="white",
    margin=dict(l=ML, r=MR, t=MT, b=MB, autoexpand=False),
    font=dict(family=FONT, size=13, color="#000000"),
    annotations=[], showlegend=True,
)
for j, lname in enumerate(LEGEND_NAMES):
    layout[lname] = dict(
        orientation="h", xref="container", yref="container",
        x=(LEGEND_TEXT_PX[j] - 40) / W, xanchor="left", y=(H - 735) / H, yanchor="middle",
        font=dict(size=13, color="#000000"), itemwidth=30, bgcolor="rgba(0,0,0,0)")

for i, zname in enumerate(ZONES):
    L = ZONE_LEFT_PX[i]
    d0 = (L - 1.65 - ML) / PW
    d1 = (L + ZONE_W_PX - ML) / PW
    key = "xaxis" if i == 0 else f"xaxis{i+1}"
    ykey = "yaxis" if i == 0 else f"yaxis{i+1}"
    layout[key] = dict(
        domain=[d0, min(d1, 1.0)], range=[-1, 100], side="top", anchor=f"y{i+1}",
        tickmode="array", tickvals=X_TICKS, ticktext=[str(t) for t in X_TICKS],
        ticks="inside", ticklen=4, tickcolor="#bfbfbf",
        minor=dict(dtick=4, tick0=0, ticks="inside", ticklen=3, tickcolor="#bfbfbf", showgrid=False),
        showgrid=True, gridcolor=GRID, gridwidth=1, zeroline=False,
        showline=True, mirror=True, linecolor=GRID, linewidth=1,
        tickfont=dict(size=14, color="#404040", family=FONT), ticklabelstandoff=6,
        fixedrange=True)
    layout[ykey] = dict(
        domain=[0, 1], range=[14, 0], anchor=f"x{i+1}",
        tickmode="array", tickvals=Y_TICKS, ticktext=[str(t) for t in Y_TICKS],
        showticklabels=(i == 0), ticks="inside", ticklen=4, tickcolor="#bfbfbf",
        minor=dict(dtick=0.4, ticks="inside", ticklen=3, tickcolor="#bfbfbf", showgrid=False),
        showgrid=True, gridcolor=GRID, gridwidth=1, zeroline=False,
        showline=True, mirror=True, linecolor=GRID, linewidth=1,
        tickfont=dict(size=14, color="#404040", family=FONT), fixedrange=True)
    cx = (L + ZONE_W_PX / 2 - ML) / PW
    layout["annotations"].append(dict(
        text=f"<b>{zname}</b>", x=cx, y=(H - MB - 20) / PH, xref="paper", yref="paper",
        showarrow=False, xanchor="center", yanchor="middle", font=dict(size=20, color="#000000", family=FONT)))
    layout["annotations"].append(dict(
        text="<b>Relative Density, D<sub>r</sub> (%)</b>", x=cx, y=(H - MB - 48) / PH, xref="paper", yref="paper",
        showarrow=False, xanchor="center", yanchor="middle", font=dict(size=13.5, color="#000000", family=FONT)))

layout["annotations"].append(dict(
    text="<b>Depth (m)</b>", x=(22 - ML) / PW, y=(H - MB - 358) / PH, xref="paper", yref="paper",
    showarrow=False, textangle=-90, xanchor="center", yanchor="middle",
    font=dict(size=12, color="#000000", family=FONT)))

fig.update_layout(**layout)
fig.write_html("out.html")
